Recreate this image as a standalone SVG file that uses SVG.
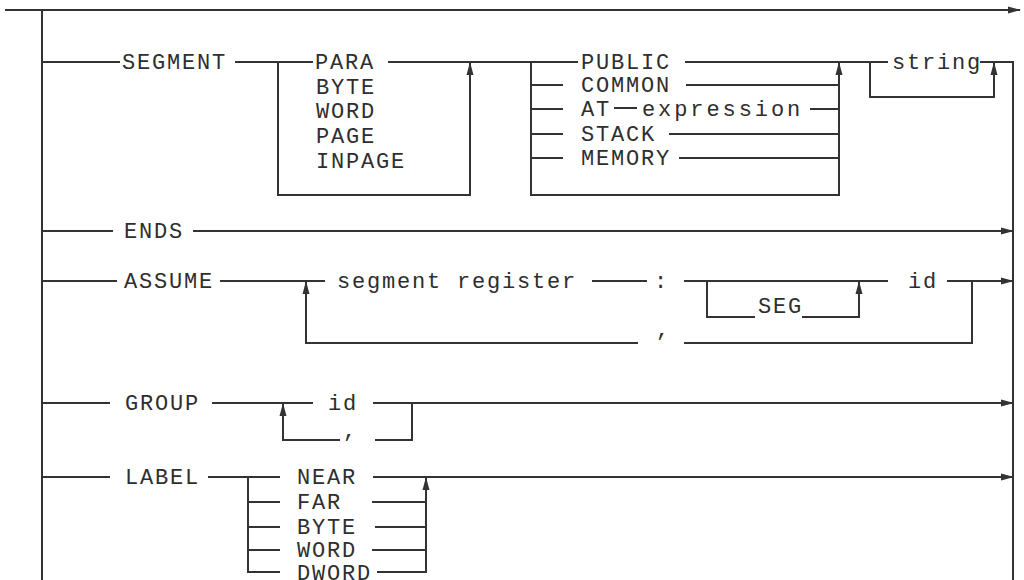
<svg xmlns="http://www.w3.org/2000/svg" width="1024" height="580" viewBox="0 0 1024 580">
<style>
.ln{fill:none;stroke:#333;stroke-width:2}
.ar{marker-end:url(#ah)}
.t{font-family:"Liberation Mono","Courier New",monospace;font-size:22px;letter-spacing:1.8px;fill:#2e2e2e}
</style>
<defs>
<marker id="ah" markerWidth="13" markerHeight="9" refX="12" refY="4.5" orient="auto" markerUnits="userSpaceOnUse">
<path d="M0,1 L13,4.5 L0,8 z" fill="#333"/>
</marker>
</defs>
<rect width="1024" height="580" fill="#fff"/>
<g id="connectors">
<path class="ln ar" d="M5,10 H1020"/>
<path class="ln" d="M42,10 V580"/>
<path class="ln" d="M980,62 H1013 V580"/>
<!-- SEGMENT -->
<path class="ln" d="M42,62 H120"/>
<path class="ln" d="M235,62 H313"/>
<path class="ln ar" d="M278,62 V195 H470 V63"/>
<path class="ln" d="M388,62 H578"/>
<path class="ln ar" d="M531,62 V195 H839 V63"/>
<path class="ln" d="M531,85 H563 M531,109 H563 M531,134 H563 M531,158 H563"/>
<path class="ln" d="M685,62 H888 M686,85 H839 M810,109 H839 M669,134 H839 M679,158 H839"/>
<path class="ln" d="M614,108 H637"/>
<path class="ln ar" d="M870,62 V97 H994 V63"/>
<!-- ENDS -->
<path class="ln" d="M42,231 H113"/>
<path class="ln ar" d="M193,231 H1013"/>
<!-- ASSUME -->
<path class="ln" d="M42,281 H117 M220,281 H325 M592,281 H647 M684,281 H888"/>
<path class="ln ar" d="M947,281 H1013"/>
<path class="ln ar" d="M972,281 V343 H684 M638,343 H306 V282"/>
<path class="ln ar" d="M707,281 V317 H755 M802,317 H859 V282"/>
<!-- GROUP -->
<path class="ln" d="M42,403 H110 M212,403 H313"/>
<path class="ln ar" d="M373,403 H1013"/>
<path class="ln ar" d="M412,403 V440 H375 M340,440 H283 V404"/>
<!-- LABEL -->
<path class="ln" d="M42,477 H110 M208,477 H280"/>
<path class="ln ar" d="M373,477 H1013"/>
<path class="ln" d="M248,477 V572 H280 M248,502 H280 M248,527 H280 M248,550 H280"/>
<path class="ln ar" d="M377,572 H426 V478"/>
<path class="ln" d="M372,502 H426 M375,527 H426 M372,550 H426"/>
</g>
<g id="segment"><text class="t" x="122" y="69">SEGMENT</text></g>
<g id="align">
<text class="t" x="315" y="69">PARA</text>
<text class="t" x="316" y="94">BYTE</text>
<text class="t" x="316" y="118">WORD</text>
<text class="t" x="316" y="143">PAGE</text>
<text class="t" x="316" y="168">INPAGE</text>
</g>
<g id="combine">
<text class="t" x="581" y="69">PUBLIC</text>
<text class="t" x="581" y="92">COMMON</text>
<text class="t" x="581" y="116">AT</text>
<text class="t" x="642" y="116" textLength="160" lengthAdjust="spacing">expression</text>
<text class="t" x="581" y="141">STACK</text>
<text class="t" x="581" y="165">MEMORY</text>
</g>
<g id="string"><text class="t" x="892" y="69">string</text></g>
<g id="ends"><text class="t" x="124" y="238">ENDS</text></g>
<g id="assume"><text class="t" x="124" y="288">ASSUME</text></g>
<g id="segreg"><text class="t" x="337" y="288">segment register</text></g>
<g id="colon"><text class="t" x="654" y="288">:</text></g>
<g id="seg"><text class="t" x="758" y="313">SEG</text></g>
<g id="assume-id"><text class="t" x="908" y="288">id</text></g>
<g id="assume-comma"><text class="t" x="656" y="336">,</text></g>
<g id="group"><text class="t" x="125" y="410">GROUP</text></g>
<g id="group-id"><text class="t" x="328" y="410">id</text></g>
<g id="group-comma"><text class="t" x="343" y="437">,</text></g>
<g id="label"><text class="t" x="125" y="484">LABEL</text></g>
<g id="distance">
<text class="t" x="297" y="484">NEAR</text>
<text class="t" x="297" y="509">FAR</text>
<text class="t" x="297" y="534">BYTE</text>
<text class="t" x="297" y="557">WORD</text>
<text class="t" x="297" y="580">DWORD</text>
</g>
</svg>
